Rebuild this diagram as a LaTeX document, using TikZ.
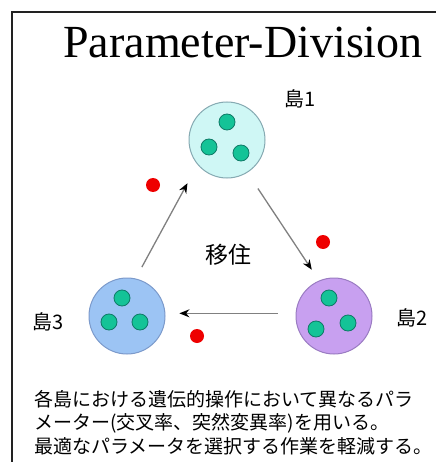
\documentclass[tikz,border=0pt]{standalone}
\usepackage{fontspec}
\setmainfont{Liberation Serif}
\newfontfamily\cjk{Noto Sans CJK JP}
\usetikzlibrary{arrows.meta,positioning,calc}
\definecolor{islCyan}{HTML}{CFF7F5}
\definecolor{islCyanLine}{HTML}{86AAB2}
\definecolor{islViolet}{HTML}{C8A0F0}
\definecolor{islVioletLine}{HTML}{9A7CC2}
\definecolor{islBlue}{HTML}{9CC4F4}
\definecolor{islBlueLine}{HTML}{7C9ACB}
\definecolor{indFill}{HTML}{14C397}
\definecolor{indLine}{HTML}{0E7A66}
\definecolor{migRed}{HTML}{EE0000}
\definecolor{flowGrey}{HTML}{808080}
\definecolor{frameGrey}{HTML}{222222}
\tikzset{
  >={Stealth[length=10pt,width=8pt,color=black]},
  island/.style={circle, minimum size=76pt, inner sep=0pt, line width=1pt},
  ind/.style={circle, minimum size=16pt, inner sep=0pt, fill=indFill,
              draw=indLine, line width=0.8pt},
  migrant/.style={circle, minimum size=14pt, inner sep=0pt, fill=migRed},
  lbl/.style={font=\cjk\fontsize{20}{24}\selectfont, inner sep=0pt},
  ttl/.style={font=\fontsize{46}{50}\selectfont, inner sep=0pt, anchor=base},
  note/.style={font=\cjk\fontsize{19}{23.5}\selectfont, inner sep=0pt,
              align=left, anchor=north west},
  flow/.style={->, draw=flowGrey, line width=1.3pt},
  frame/.style={draw=frameGrey, line width=1.5pt},
}

\begin{document}
\begin{tikzpicture}[x=1pt,y=-1pt]
    \useasboundingbox (0,0) rectangle (436,462);
    \draw[frame] (12,462) -- (12,12) -- (436,12);
    \node[ttl] (title) at (243,58) {Parameter-Division};

    % islands
    \node[island,fill=islCyan,draw=islCyanLine] (isl1) at (227,140) {};
    \node[island,fill=islViolet,draw=islVioletLine] (isl2) at (334,316) {};
    \node[island,fill=islBlue,draw=islBlueLine] (isl3) at (127,316) {};
    \node[lbl] (lab1) at (300,99) {島1};
    \node[lbl] (lab2) at (412,318) {島2};
    \node[lbl] (lab3) at (48,322) {島3};

    % individuals
    \node[ind] (i1a) at (227,122) {};
    \node[ind] (i1b) at (209,147) {};
    \node[ind] (i1c) at (241,153) {};
    \node[ind] (i2a) at (329,298) {};
    \node[ind] (i2b) at (316,329) {};
    \node[ind] (i2c) at (348,323) {};
    \node[ind] (i3a) at (122,298) {};
    \node[ind] (i3b) at (109,322) {};
    \node[ind] (i3c) at (140,322) {};

    % migration
    \draw[flow,shorten <=13pt,shorten >=21pt] (isl3.77) -- (isl1.220);
    \draw[flow,shorten <=19pt,shorten >=13pt] (isl1.302) -- (isl2.113);
    \draw[flow,shorten <=18pt,shorten >=14pt] (isl2.176) -- (isl3.4);
    \node[migrant] (m1) at (153,185) {};
    \node[migrant] (m2) at (323,242) {};
    \node[migrant] (m3) at (197,336) {};
    \node[lbl,font=\cjk\fontsize{23}{27}\selectfont] (mig) at (228,255) {移住};

    \node[note] (txt) at (34,390)
      {各島における遺伝的操作において異なるパラ\\
       メーター(交叉率、突然変異率)を用いる。\\
       最適なパラメータを選択する作業を軽減する。};
\end{tikzpicture}
\end{document}
